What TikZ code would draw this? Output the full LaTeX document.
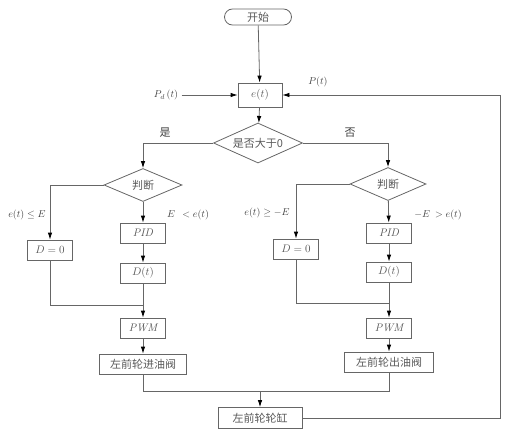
\documentclass[tikz,border=0pt]{standalone}
\usepackage{fontspec}
\setmainfont{Noto Sans CJK SC}
\newfontfamily\lmr{Latin Modern Roman}
\usepackage{amsmath}
\usepackage{tikz}
\usetikzlibrary{arrows.meta,shapes.geometric}

\begin{document}
\begin{tikzpicture}[
  x=1pt, y=-1pt,
  box/.style={draw=black!60, thick, text=black!65, inner sep=0pt, minimum width=45pt, minimum height=20pt, font=\fontsize{11}{13}\selectfont},
  boxr/.style={box, rounded corners=8pt},
  dec/.style={draw=black!60, thick, diamond, aspect=2.2, inner sep=0pt, text=black!65, font=\fontsize{11}{13}\selectfont},
  lbl/.style={text=black!75, font=\fontsize{10}{12}\selectfont},
  edg/.style={-{Latex[length=7pt,width=4.5pt,black]}, draw=black!60, thick},
  lin/.style={draw=black!60, thick}
]
\useasboundingbox (0,0) rectangle (510,436);
\node[boxr, minimum width=67pt, minimum height=16pt] (start) at (258,17) {开始};
\node[box, minimum width=44pt, minimum height=24pt] (et) at (260,95) {$e(t)$};
\node[lbl] (pd) at (166,95) {$P_d\,(t)$};
\node[lbl] (pt) at (318,82) {$P(t)$};
\node[dec, minimum width=89pt, minimum height=40pt] (dec0) at (258,143) {是否大于0};
\node[lbl, font=\fontsize{11}{13}\selectfont] (yes) at (165,133) {是};
\node[lbl, font=\fontsize{11}{13}\selectfont] (no) at (350,133) {否};
% left branch
\node[dec, minimum width=78pt, minimum height=33pt] (jl) at (143,185) {判断};
\node[box] (d0l) at (50,250) {$D=0$};
\node[box] (pidl) at (143,233) {\lmr\itshape PID};
\node[box] (dtl) at (143,273) {$D(t)$};
\node[box] (pwml) at (143,328) {\lmr\itshape PWM};
\node[box, minimum width=87pt] (inl) at (143,364) {左前轮进油阀};
\node[lbl] (cl1) at (27,215) {$e(t)\leq E$};
\node[lbl] (cl2) at (188,215) {$E\ \ <e(t)$};
% right branch
\node[dec, minimum width=76pt, minimum height=33pt] (jr) at (388,184) {判断};
\node[box] (d0r) at (296,249) {$D=0$};
\node[box] (pidr) at (389,233) {\lmr\itshape PID};
\node[box] (dtr) at (389,272) {$D(t)$};
\node[box] (pwmr) at (389,328) {\lmr\itshape PWM};
\node[box, minimum width=89pt] (outr) at (389,362) {左前轮出油阀};
\node[lbl] (cr1) at (267,213) {$e(t)\geq -E$};
\node[lbl] (cr2) at (438,215) {$-E\ >e(t)$};
\node[box, minimum width=84pt, minimum height=21pt] (cyl) at (260,418) {左前轮轮缸};
\coordinate (jnl) at (143,305);
\coordinate (jnr) at (389,303);
\coordinate (jnb) at (260,391);
\coordinate (fb) at (500,95);
\draw[edg] (start) -- (et);
\draw[edg] (pd) -- (et);
\draw[edg] (et) -- (dec0);
\draw[edg] (dec0.west) -| (jl.north);
\draw[edg] (dec0.east) -| (jr.north);
\draw[edg] (jl.west) -| (d0l.north);
\draw[edg] (jl) -- (pidl);
\draw[edg] (pidl) -- (dtl);
\draw[edg] (dtl) -- (pwml);
\draw[lin] (d0l) |- (jnl);
\draw[edg] (pwml) -- (inl);
\draw[edg] (jr.west) -| (d0r.north);
\draw[edg] (jr) -- (pidr);
\draw[edg] (pidr) -- (dtr);
\draw[edg] (dtr) -- (pwmr);
\draw[lin] (d0r) |- (jnr);
\draw[edg] (pwmr) -- (outr);
\draw[lin] (inl) |- (jnb);
\draw[lin] (outr) |- (jnb);
\draw[edg] (jnb) -- (cyl);
\draw[edg] (cyl.east) -| (fb) -- (et.east);
\end{tikzpicture}
\end{document}
